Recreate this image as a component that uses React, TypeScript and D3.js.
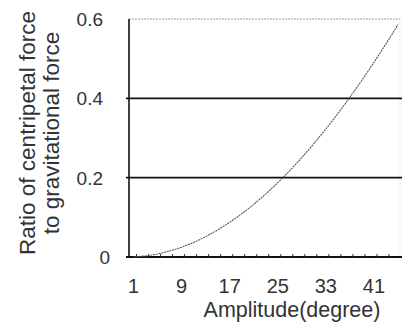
import React from "react";
import * as d3 from "d3";

const amplitudes: number[] = d3.range(1, 46);
const ratios: number[] = [
  0.0003, 0.0012, 0.0027, 0.0049, 0.0076, 0.011, 0.0149, 0.0195, 0.0246, 0.0304,
  0.0367, 0.0437, 0.0513, 0.0594, 0.0681, 0.0775, 0.0874, 0.0979, 0.109, 0.1206,
  0.1328, 0.1456, 0.159, 0.1729, 0.1874, 0.2024, 0.218, 0.2341, 0.2508, 0.2679,
  0.2857, 0.3039, 0.3227, 0.3419, 0.3617, 0.382, 0.4027, 0.424, 0.4457, 0.4679,
  0.4906, 0.5137, 0.5373, 0.5613, 0.5858,
];
const xTickLabels: number[] = [1, 9, 17, 25, 33, 41];
const yTicks: number[] = [0, 0.2, 0.4, 0.6];
const yTickLabels: string[] = ["0", "0.2", "0.4", "0.6"];

export default function App() {
  const W = 403, H = 325;
  const left = 129, right = 400, top = 19, bottom = 257;
  const x = d3.scaleBand<number>().domain(amplitudes).range([left + 1.5, right + 1]);
  const cx = (d: number) => (x(d) as number) + x.bandwidth() / 2;
  const y = d3.scaleLinear().domain([0, 0.6]).range([bottom, top]);
  const line = d3.line<number>().x((_, i) => cx(amplitudes[i])).y((d) => y(d));
  const font = "Liberation Sans, Arial, sans-serif";
  const boundaries = amplitudes.filter((_, i) => i % 2 === 1).map((d) => x(d) as number);
  return (
    <svg width={W} height={H} style={{ position: "absolute", left: 0, top: 0, background: "#fff" }}>
      <line x1={left} x2={right} y1={y(0.6)} y2={y(0.6)} stroke="#999" strokeWidth={1} strokeDasharray="2,1" />
      <line x1={right} x2={right} y1={top} y2={bottom} stroke="#ccc" strokeWidth={1} strokeDasharray="1,3" />
      {[0.2, 0.4].map((v) => (
        <line key={v} x1={left - 3} x2={right + 2} y1={y(v)} y2={y(v)} stroke="#111" strokeWidth={1.6} />
      ))}
      <line x1={left} x2={left} y1={top} y2={bottom + 1} stroke="#111" strokeWidth={1.6} />
      <line x1={left - 3} x2={right + 2} y1={bottom} y2={bottom} stroke="#111" strokeWidth={2} />
      {boundaries.map((b, i) => (
        <line key={i} x1={b} x2={b} y1={bottom} y2={bottom - 3} stroke="#333" strokeWidth={1} />
      ))}
      <path d={line(ratios) || ""} fill="none" stroke="#555" strokeWidth={1.1} strokeDasharray="2,0.8" />
      {yTicks.map((v, i) => (
        <text key={v} x={i === 0 ? 110 : 103} y={y(v)} dy="0.36em" textAnchor="end" fontFamily={font} fontSize={19} fill="#333">
          {yTickLabels[i]}
        </text>
      ))}
      {xTickLabels.map((v) => (
        <text key={v} x={cx(v)} y={293} textAnchor="middle" fontFamily={font} fontSize={20} fill="#333">
          {v}
        </text>
      ))}
      <text x={292} y={317} textAnchor="middle" fontFamily={font} fontSize={21.5} fill="#333">
        Amplitude(degree)
      </text>
      <g transform="translate(35,133) rotate(-90)">
        <text x={0} y={0} textAnchor="middle" fontFamily={font} fontSize={22.5} fill="#333">
          Ratio of centripetal force
        </text>
        <text x={0} y={24} textAnchor="middle" fontFamily={font} fontSize={22.5} fill="#333">
          to gravitational force
        </text>
      </g>
    </svg>
  );
}
